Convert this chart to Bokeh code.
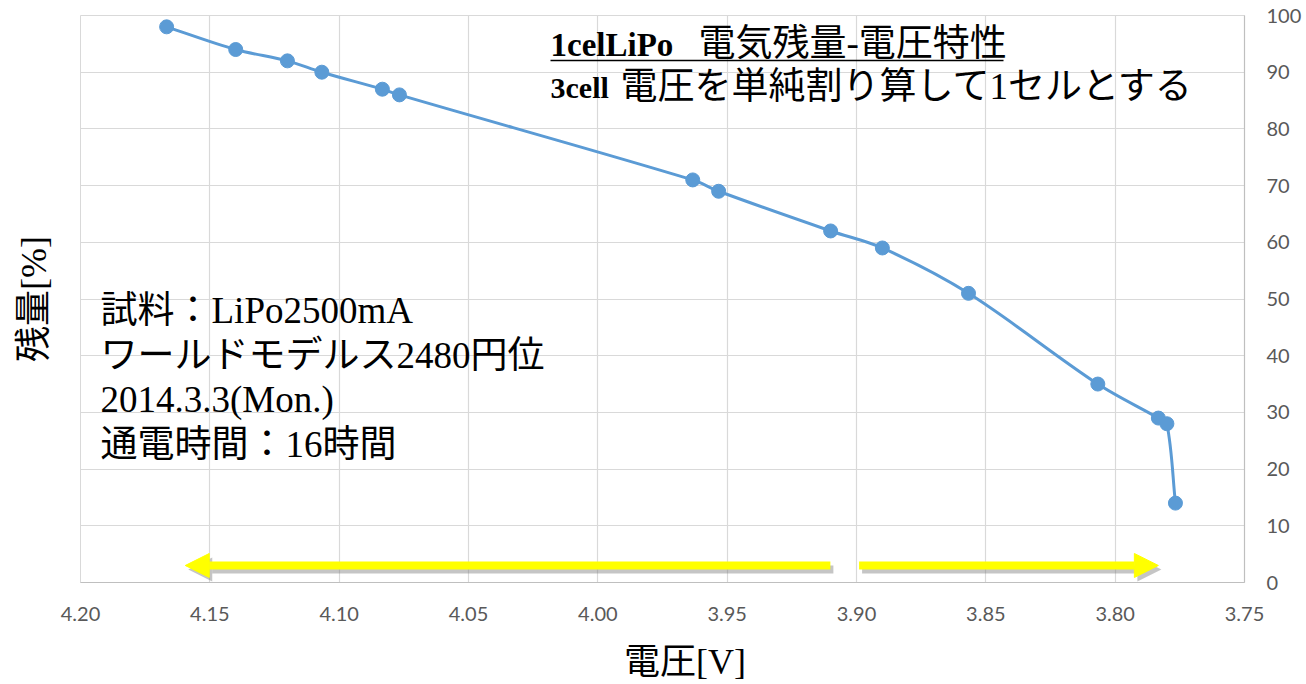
import numpy as np
from bokeh.plotting import figure
from bokeh.models import Range1d, FixedTicker, Label, Arrow, NormalHead, LinearAxis
from bokeh.embed import file_html
from bokeh.resources import INLINE

# ---------------- data ----------------
voltage = [4.1667, 4.1400, 4.1200, 4.1067, 4.0833, 4.0767, 3.9633, 3.9533,
           3.9100, 3.8900, 3.8567, 3.8067, 3.7833, 3.7800, 3.7767]
remaining = [98, 94, 92, 90, 87, 86, 71, 69, 62, 59, 51, 35, 29, 28, 14]

x_ticks = [4.20, 4.15, 4.10, 4.05, 4.00, 3.95, 3.90, 3.85, 3.80, 3.75]
x_tick_labels = ["4.20", "4.15", "4.10", "4.05", "4.00", "3.95", "3.90", "3.85", "3.80", "3.75"]
y_ticks = [0, 10, 20, 30, 40, 50, 60, 70, 80, 90, 100]
y_tick_labels = ["0", "10", "20", "30", "40", "50", "60", "70", "80", "90", "100"]

title_bold = ["1celLiPo", "3cell"]
title_rest = ["電気残量-電圧特性", "電圧を単純割り算して1セルとする"]
note_lines = ["試料：LiPo2500mA", "ワールドモデルス2480円位", "2014.3.3(Mon.)", "通電時間：16時間"]
x_label = "電圧[V]"
y_label = "残量[%]"

# annotation arrows (start, tip) in volts, at a common height
arrow_left = (3.9101, 4.1595)
arrow_right = (3.8990, 3.7833)
arrow_y = 3.0

# ---------------- layout ----------------
W, H = 1306, 684
ML, MR, MT, MB = 80, 62, 15, 102
FW, FH = W - ML - MR, H - MT - MB
X0, X1 = 4.20, 3.75
sx = FW / (X0 - X1)      # px per volt
sy = FH / 100.0          # px per percent

BLUE = "#5B9BD5"
GRID = "#D9D9D9"
SERIF = "Liberation Serif, Noto Sans CJK JP"

p = figure(width=W, height=H, x_range=Range1d(X0, X1), y_range=Range1d(0, 100),
           y_axis_location="right", output_backend="svg", toolbar_location=None,
           min_border_left=ML, min_border_right=MR, min_border_top=MT, min_border_bottom=MB)
p.outline_line_color = GRID
p.background_fill_color = "white"
p.border_fill_color = "white"

p.xgrid.ticker = FixedTicker(ticks=x_ticks)
p.ygrid.ticker = FixedTicker(ticks=y_ticks)
for g in (p.xgrid, p.ygrid):
    g.grid_line_color = GRID
    g.grid_line_width = 1.2

xa = p.xaxis[0]
xa.ticker = FixedTicker(ticks=x_ticks)
xa.major_label_overrides = {t: s for t, s in zip(x_ticks, x_tick_labels)}
ya = p.yaxis[0]
ya.ticker = FixedTicker(ticks=y_ticks)
ya.major_label_overrides = {t: s for t, s in zip(y_ticks, y_tick_labels)}
for ax in (xa, ya):
    ax.major_tick_line_color = None
    ax.minor_tick_line_color = None
    ax.major_tick_out = 0
    ax.minor_tick_out = 0
    ax.axis_line_color = "#BFBFBF"
    ax.axis_line_width = 1.2
    ax.major_label_text_color = "#595959"
    ax.major_label_text_font = "Lato"
    ax.major_label_text_font_size = "20px"
xa.major_label_standoff = 24
ya.major_label_standoff = 22

# x axis title (nudged right as in the reference with a leading ideographic space)
xa.axis_label = "\u3000 " + x_label
xa.axis_label_text_font = SERIF
xa.axis_label_text_font_size = "36px"
xa.axis_label_text_font_style = "normal"
xa.axis_label_text_color = "black"
xa.axis_label_standoff = 18

# y axis title on the left side
la = LinearAxis(ticker=FixedTicker(ticks=[]), axis_label=y_label,
                axis_line_color=None, major_tick_line_color=None, minor_tick_line_color=None,
                major_tick_out=0, minor_tick_out=0, major_label_standoff=0,
                axis_label_standoff=27, axis_label_text_font=SERIF,
                axis_label_text_font_size="36px", axis_label_text_font_style="normal",
                axis_label_text_color="black")
p.add_layout(la, "left")

# ---------------- smoothed curve (Bezier through the points) ----------------
P = np.column_stack([-np.array(voltage) * sx, np.array(remaining, float) * sy])
T = np.empty_like(P)
T[0] = P[1] - P[0]
T[-1] = P[-1] - P[-2]
T[1:-1] = P[2:] - P[:-2]
Tn = T / np.linalg.norm(T, axis=1)[:, None]
d = np.linalg.norm(P[1:] - P[:-1], axis=1)[:, None]
C0 = P[:-1] + Tn[:-1] * d / 3.0
C1 = P[1:] - Tn[1:] * d / 3.0
p.bezier(x0=-P[:-1, 0] / sx, y0=P[:-1, 1] / sy, x1=-P[1:, 0] / sx, y1=P[1:, 1] / sy,
         cx0=-C0[:, 0] / sx, cy0=C0[:, 1] / sy, cx1=-C1[:, 0] / sx, cy1=C1[:, 1] / sy,
         line_color=BLUE, line_width=3)
p.scatter(voltage, remaining, size=14, color=BLUE)

# ---------------- arrows with soft shadow ----------------
dxs, dys = -3.0 / sx, -4.0 / sy
for (a, b) in (arrow_left, arrow_right):
    p.add_layout(Arrow(x_start=a + dxs, y_start=arrow_y + dys, x_end=b + dxs, y_end=arrow_y + dys,
                       line_color="#7F7F7F", line_alpha=0.45, line_width=8,
                       end=NormalHead(size=24, fill_color="#7F7F7F", fill_alpha=0.45,
                                      line_color=None)))
    p.add_layout(Arrow(x_start=a, y_start=arrow_y, x_end=b, y_end=arrow_y,
                       line_color="#FFFF00", line_width=8,
                       end=NormalHead(size=24, fill_color="#FFFF00", line_color="#FFFF00",
                                      line_width=1)))

# ---------------- texts ----------------
def vx(px):  # page x -> volts
    return X0 - (px - ML) / sx

def py(pyv):  # page y -> percent
    return (H - MB - pyv) / sy

p.add_layout(Label(x=vx(550), y=py(44), text=title_bold[0], text_font="Liberation Serif",
                   text_font_style="bold", text_font_size="33px", text_baseline="middle",
                   text_color="black"))
p.add_layout(Label(x=vx(698), y=py(43), text=title_rest[0], text_font=SERIF,
                   text_font_size="37px", text_baseline="middle", text_color="black"))
p.segment(x0=[vx(550)], y0=[py(60)], x1=[vx(1003)], y1=[py(60)], line_color="black", line_width=1.5)
p.add_layout(Label(x=vx(550), y=py(87), text=title_bold[1], text_font="Liberation Serif",
                   text_font_style="bold", text_font_size="30px", text_baseline="middle",
                   text_color="black"))
p.add_layout(Label(x=vx(620), y=py(86), text=title_rest[1], text_font=SERIF,
                   text_font_size="37px", text_baseline="middle", text_color="black"))

note_centers = [310, 354.5, 399, 444]
for line, yc in zip(note_lines, note_centers):
    p.add_layout(Label(x=vx(100), y=py(yc), text=line, text_font=SERIF,
                       text_font_size="37px", text_baseline="middle", text_color="black"))

open("out.html", "w").write(file_html(p, INLINE))
